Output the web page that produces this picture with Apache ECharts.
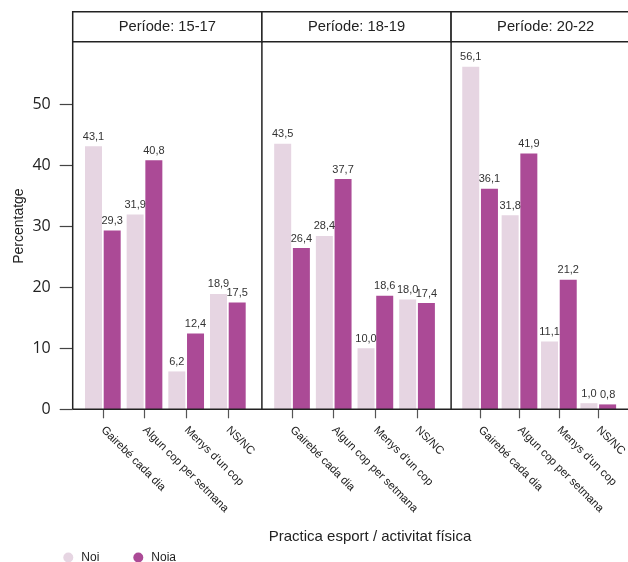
<!DOCTYPE html>
<html><head><meta charset="utf-8">
<script src="https://cdn.jsdelivr.net/npm/echarts@6/dist/echarts.min.js"></script>
<style>html,body{margin:0;padding:0;background:#fff}#c{width:628px;height:562px}</style>
</head><body><div id="c"></div>
<script>
var categories = ['Gairebé cada dia', 'Algun cop per setmana', "Menys d'un cop", 'NS/NC'];
var periods = ['Període: 15-17', 'Període: 18-19', 'Període: 20-22'];
var noi1 = [43.1, 31.9, 6.2, 18.9];
var noia1 = [29.3, 40.8, 12.4, 17.5];
var noi2 = [43.5, 28.4, 10.0, 18.0];
var noia2 = [26.4, 37.7, 18.6, 17.4];
var noi3 = [56.1, 31.8, 11.1, 1.0];
var noia3 = [36.1, 41.9, 21.2, 0.8];
var yTicks = [0, 10, 20, 30, 40, 50];
var seriesNames = ['Noi', 'Noia'];

var noiData = [noi1, noi2, noi3];
var noiaData = [noia1, noia2, noia3];
var colors = ['#e6d5e2', '#ab4a96'];
var FONT = '"Liberation Sans", Arial, sans-serif';

// layout
var panelLeft0 = 72.7, panelW = 189.2, stripTop = 11.7, stripBottom = 41.7, plotBottom = 409.3;
var yMax = 60, unitPx = 6.106;
var plotTop = plotBottom - yMax * unitPx;
var bandPadL = 9.3, bandW = 41.67;

var grids = [], xAxes = [], yAxes = [], series = [], graphics = [];
for (var p = 0; p < 3; p++) {
  var pl = panelLeft0 + p * panelW;
  grids.push({left: pl + bandPadL, top: plotTop, width: bandW * 4, height: plotBottom - plotTop, containLabel: false});
  xAxes.push({
    type: 'category', gridIndex: p, data: categories,
    axisLine: {show: false},
    axisTick: {show: true, alignWithLabel: true, length: 9, lineStyle: {color: '#555', width: 1.2}},
    axisLabel: {rotate: -45, margin: 19, fontSize: 11.3, color: '#222', fontFamily: FONT, interval: 0}
  });
  yAxes.push({
    type: 'value', gridIndex: p, min: 0, max: yMax, interval: 10,
    offset: p === 0 ? bandPadL : 0,
    show: p === 0,
    splitLine: {show: false},
    axisLine: {show: false},
    axisTick: {show: p === 0, length: 13, customValues: yTicks, lineStyle: {color: '#444', width: 1.2}},
    axisLabel: {show: p === 0, margin: 22, fontSize: 16, color: '#222', customValues: yTicks,
      fontFamily: '"Open Sans", "Noto Sans", sans-serif'},
    name: p === 0 ? 'Percentatge' : '', nameLocation: 'middle', nameGap: 47,
    nameTextStyle: {fontSize: 14, color: '#222', fontFamily: FONT}
  });
  var fmt = function (prm) { return prm.value.toFixed(1).replace('.', ','); };
  [noiData[p], noiaData[p]].forEach(function (d, k) {
    series.push({
      type: 'bar', name: seriesNames[k], xAxisIndex: p, yAxisIndex: p, data: d,
      barWidth: 17, barGap: '10%',
      itemStyle: {color: colors[k]},
      label: {show: true, position: 'top', distance: 4, fontSize: 11, color: '#333', fontFamily: FONT, formatter: fmt},
      emphasis: {disabled: true}
    });
  });
  // strip box
  graphics.push({type: 'rect', shape: {x: pl, y: stripTop, width: panelW, height: stripBottom - stripTop},
    style: {fill: '#fff', stroke: '#222', lineWidth: 1.5}, z: 10});
  graphics.push({type: 'text', x: pl + panelW / 2, y: (stripTop + stripBottom) / 2,
    style: {text: periods[p], font: '14.7px ' + FONT, fill: '#222', textAlign: 'center', textVerticalAlign: 'middle'}, z: 11});
  // vertical panel borders
  graphics.push({type: 'line', shape: {x1: pl, y1: stripBottom, x2: pl, y2: plotBottom}, style: {stroke: '#222', lineWidth: 1.5}, z: 10});
}
graphics.push({type: 'line', shape: {x1: panelLeft0 + 3 * panelW, y1: stripBottom, x2: panelLeft0 + 3 * panelW, y2: plotBottom}, style: {stroke: '#222', lineWidth: 1.5}, z: 10});
// baseline
graphics.push({type: 'line', shape: {x1: panelLeft0, y1: plotBottom, x2: panelLeft0 + 3 * panelW, y2: plotBottom}, style: {stroke: '#222', lineWidth: 1.5}, z: 10});
// x title
graphics.push({type: 'text', x: 370, y: 537, style: {text: 'Practica esport / activitat física', font: '15px ' + FONT, fill: '#222', textAlign: 'center', textVerticalAlign: 'middle'}});

var chart = echarts.init(document.getElementById('c'), null, {renderer: 'canvas'});
chart.setOption({
  animation: false,
  grid: grids, xAxis: xAxes, yAxis: yAxes, series: series, graphic: graphics,
  legend: {
    data: seriesNames, left: 63.3, top: 551.5, padding: 0, icon: 'circle', itemWidth: 16, itemHeight: 10, itemGap: 34,
    textStyle: {fontSize: 12, color: '#222', fontFamily: FONT}
  }
});
</script></body></html>
